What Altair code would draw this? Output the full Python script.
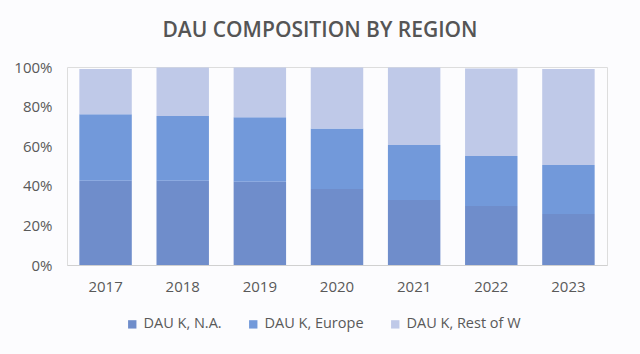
import altair as alt
import pandas as pd

years = ["2017", "2018", "2019", "2020", "2021", "2022", "2023"]
na = [0.426, 0.426, 0.421, 0.384, 0.328, 0.298, 0.258]
europe = [0.335, 0.327, 0.325, 0.306, 0.278, 0.253, 0.247]
rest = [0.229, 0.245, 0.252, 0.308, 0.392, 0.442, 0.485]
series = ["DAU K, N.A.", "DAU K, Europe", "DAU K, Rest of W"]
colors = ["#6f8dcb", "#7299da", "#bfc9e8"]

rows = []
for i, y in enumerate(years):
    for k, (name, vals) in enumerate(zip(series, [na, europe, rest])):
        rows.append({"year": y, "series": name, "value": vals[i], "order": k})
df = pd.DataFrame(rows)

font = "Open Sans"

chart = alt.Chart(df).mark_bar().encode(
    x=alt.X("year:N", sort=years, title=None,
            scale=alt.Scale(paddingInner=0.32, paddingOuter=0.16),
            axis=alt.Axis(labelAngle=0, ticks=False, domainColor="#d0d0d0",
                          labelColor="#595959", labelFontSize=15, labelFont=font,
                          labelPadding=14)),
    y=alt.Y("value:Q", stack="zero", title=None,
            scale=alt.Scale(domain=[0, 1]),
            axis=alt.Axis(format=".0%", values=[0, 0.2, 0.4, 0.6, 0.8, 1.0],
                          grid=False, domain=False, ticks=False,
                          labelColor="#595959", labelFontSize=15, labelFont=font,
                          labelPadding=15)),
    color=alt.Color("series:N", sort=series,
                    scale=alt.Scale(domain=series, range=colors),
                    legend=alt.Legend(title=None, orient="none", direction="horizontal",
                                      legendX=58, legendY=250,
                                      symbolType="square", symbolSize=70,
                                      symbolStrokeWidth=0,
                                      labelFontSize=14.5, labelFont=font,
                                      labelColor="#595959", columnPadding=24)),
    order=alt.Order("order:Q"),
).properties(
    width=540, height=198,
    title=alt.TitleParams("DAU COMPOSITION BY REGION", fontSize=21, font=font,
                          fontWeight=600, color="#555555", anchor="middle",
                          dx=-17, offset=19),
    autosize=alt.AutoSizeParams(type="none"),
    padding={"left": 67, "top": 67, "right": 33, "bottom": 89},
).configure_view(stroke=None).configure(background="#fcfcfe")

chart.save("out.html", embed_options={"renderer": "svg", "actions": False})
